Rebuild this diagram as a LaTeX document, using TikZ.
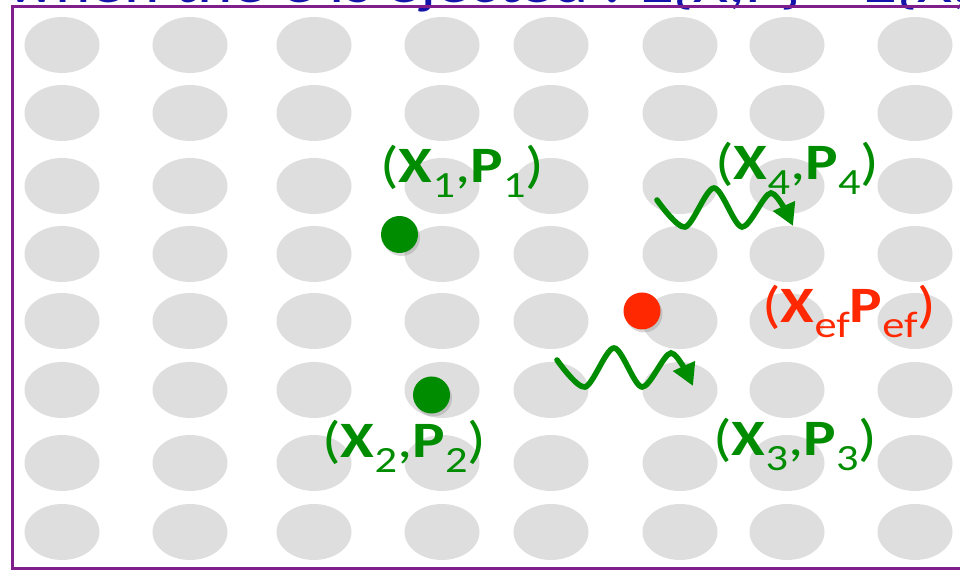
\documentclass[tikz,border=0pt]{standalone}
\usepackage{fontspec}
\setmainfont{Carlito}
\newfontfamily\slidefont[FakeStretch=1.2]{Carlito}
\usepackage{xcolor}
\usetikzlibrary{shapes,arrows.meta,positioning,shadows}

\definecolor{atomgray}{RGB}{222,222,222}
\definecolor{dotgreen}{RGB}{0,140,0}
\definecolor{ejred}{RGB}{255,40,0}
\definecolor{slideblue}{RGB}{20,20,170}
\definecolor{framepurple}{RGB}{128,30,140}

\newcommand\lowsub[1]{\raisebox{-7.5pt}{\fontsize{18.5}{20}\selectfont #1}}

\tikzset{photon/.pic={
    \draw[wave] plot[smooth] coordinates {(0,0) (28,27) (57,-12) (85,27) (114,-7) (136,26)};
}}

\begin{document}
\begin{tikzpicture}[x=0.5pt, y=-0.5pt]
    % Define styles
    \tikzstyle{atom} = [fill=atomgray]
    \tikzstyle{electron} = [circle, minimum size=18.5pt, inner sep=0pt, drop shadow={shadow xshift=1pt, shadow yshift=-1.5pt, opacity=0.3}]
    \tikzstyle{coords} = [inner sep=0pt, anchor=base west, font=\slidefont\fontsize{25.5}{28}\selectfont]
    \tikzstyle{title} = [inner sep=0pt, anchor=base west, text=slideblue, font=\slidefont\fontsize{28}{32}\selectfont]
    \tikzstyle{wave} = [draw=dotgreen, line width=2.8pt, line cap=round, -{Triangle[length=11pt, width=11.5pt]}]
    \tikzstyle{frame} = [draw=framepurple, line width=1.2pt]

    \useasboundingbox (0,0) rectangle (960,571);

    % Slide title, cut off at the top
    \node[title] (title) at (7,2.5) {when the e is ejected : Σ\{X,P\} = Σ\{X,P\}};

    % Frame
    \draw[frame] (12.5,6.5) rectangle (990,568.5);

    % Atom lattice
    \foreach \x in {62,190,314,442,551,680,787,915}
        \foreach \y in {45,113,186,254,321,390,463,532}
            \path[atom] (\x,\y) ellipse [x radius=37.5, y radius=28];

    % Electrons
    \node[electron, fill=dotgreen] (e1) at (399.5,234.5) {};
    \node[electron, fill=dotgreen] (e2) at (431.5,395) {};
    \node[electron, fill=ejred] (eef) at (642,311) {};

    % Photons
    \pic (ph1) at (657,200) {photon};
    \pic (ph2) at (557,360) {photon};

    % Labels
    \node[coords, text=dotgreen] (l1) at (380,183) {(\textbf{X}\lowsub{1},\textbf{P}\lowsub{1})};
    \node[coords, text=dotgreen] (l2) at (322,458) {(\textbf{X}\lowsub{2},\textbf{P}\lowsub{2})};
    \node[coords, text=dotgreen] (l3) at (713,456) {(\textbf{X}\lowsub{3},\textbf{P}\lowsub{3})};
    \node[coords, text=dotgreen] (l4) at (715,180) {(\textbf{X}\lowsub{4},\textbf{P}\lowsub{4})};
    \node[coords, text=ejred] (lef) at (762,323) {(\textbf{X}\lowsub{ef}\textbf{P}\lowsub{ef})};

\end{tikzpicture}
\end{document}
